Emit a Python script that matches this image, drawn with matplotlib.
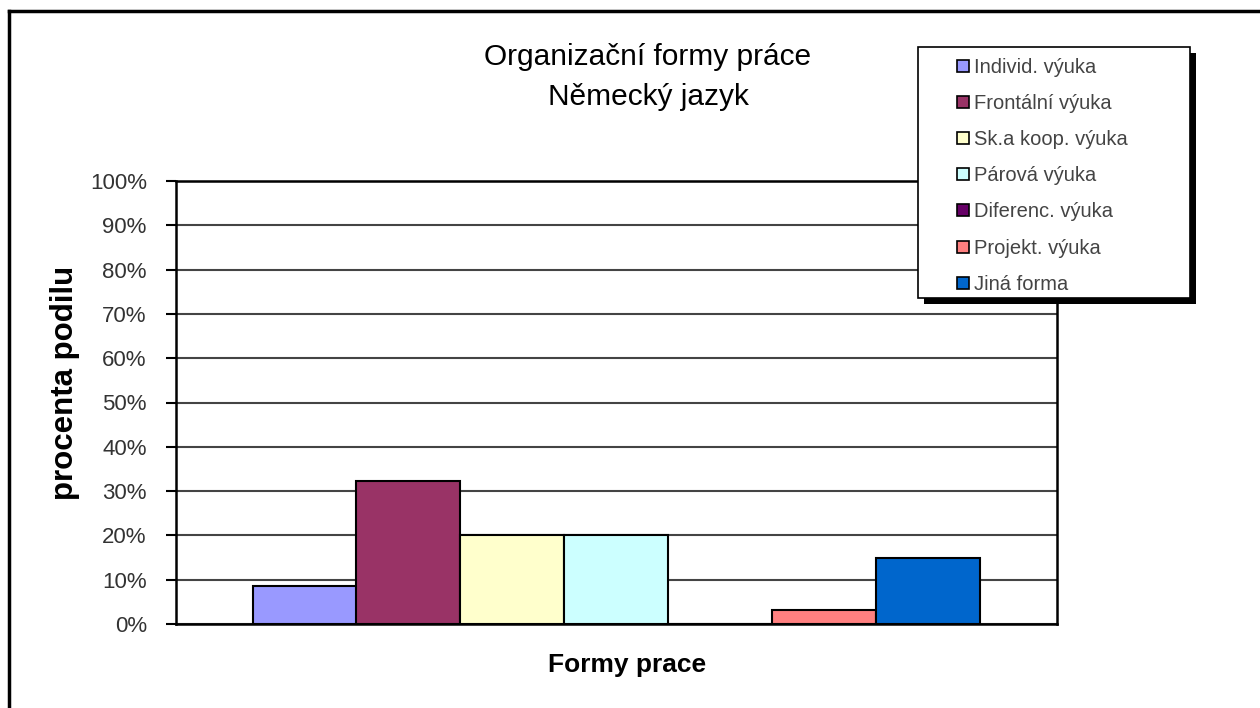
import numpy as np
import matplotlib
matplotlib.use("Agg")
import matplotlib.pyplot as plt
from matplotlib.patches import Rectangle
from matplotlib.lines import Line2D

# data
categories = ["Individ. výuka", "Frontální výuka", "Sk.a koop. výuka", "Párová výuka",
              "Diferenc. výuka", "Projekt. výuka", "Jiná forma"]
values = [8.6, 32.3, 20.0, 20.0, 0.0, 3.2, 14.9]
colors = ["#9999FF", "#993366", "#FFFFCC", "#CCFFFF", "#660066", "#FF8080", "#0066CC"]
yticks = list(range(0, 101, 10))

plt.rcParams["font.family"] = ["Liberation Sans", "DejaVu Sans"]

W, H = 1260, 708
fig = plt.figure(figsize=(W / 100, H / 100), dpi=100)
fig.patch.set_facecolor("white")

def fx(px):
    return px / W

def fy(py):
    return 1 - py / H

ax = fig.add_axes([fx(176), fy(624), fx(1057) - fx(176), fy(181) - fy(624)])

# bars of one category, side by side
width = 104 / 881
n = len(values)
for i, (v, c, lab) in enumerate(zip(values, colors, categories)):
    x = (i - (n - 1) / 2) * width
    ax.bar(x, v, width=width, color=c, edgecolor="black", linewidth=1.5,
           label=lab, zorder=3)

ax.set_xlim(-0.5, 0.5)
ax.set_ylim(0, 100)
ax.set_yticks(yticks)
ax.set_yticklabels([f"{t}%" for t in yticks], fontsize=16, color="#333333")
ax.set_xticks([])
ax.tick_params(axis="y", direction="out", length=7, width=1.5, pad=14)
ax.yaxis.grid(True, color="#444444", linewidth=1.5, zorder=0)
for s in ax.spines.values():
    s.set_linewidth(1.8)
    s.set_color("black")

# titles and axis labels
fig.text(fx(648), fy(57), "Organizační formy práce", ha="center", va="center",
         fontsize=21.5, color="black")
fig.text(fx(648), fy(97), "Německý jazyk", ha="center", va="center",
         fontsize=21.5, color="black")
fig.text(fx(627), fy(665), "Formy prace", ha="center", va="center",
         fontsize=19, fontweight="bold")
fig.text(fx(65), fy(383), "procenta podilu", ha="center", va="center",
         rotation=90, fontsize=22.5, fontweight="bold")

# legend box with black shadow
fig.patches.append(Rectangle((fx(924), fy(304)), fx(1196) - fx(924), fy(47) - fy(298),
                             transform=fig.transFigure, facecolor="black",
                             edgecolor="none", zorder=5))
fig.patches.append(Rectangle((fx(918), fy(298)), fx(1190) - fx(918), fy(47) - fy(298),
                             transform=fig.transFigure, facecolor="white",
                             edgecolor="black", linewidth=1.2, zorder=6))
handles = [Line2D([], [], marker="s", linestyle="none", markersize=8,
                  markerfacecolor=c, markeredgecolor="black", markeredgewidth=1.2)
           for c in colors]
leg = fig.legend(handles, categories, loc="upper left",
                 bbox_to_anchor=(fx(955), fy(58)), frameon=False,
                 fontsize=14.5, labelspacing=0.85, handlelength=0.8,
                 handletextpad=0.15, borderpad=0, borderaxespad=0)
leg.set_zorder(7)
for t in leg.get_texts():
    t.set_color("#444444")

# outer frame (only top and left edges visible)
fig.lines.append(Line2D([fx(9), fx(9)], [0, fy(11)], transform=fig.transFigure,
                        color="black", linewidth=2.5))
fig.lines.append(Line2D([fx(9), 1], [fy(11), fy(11)], transform=fig.transFigure,
                        color="black", linewidth=2.5))

fig.savefig("out.png", dpi=100, facecolor="white")
